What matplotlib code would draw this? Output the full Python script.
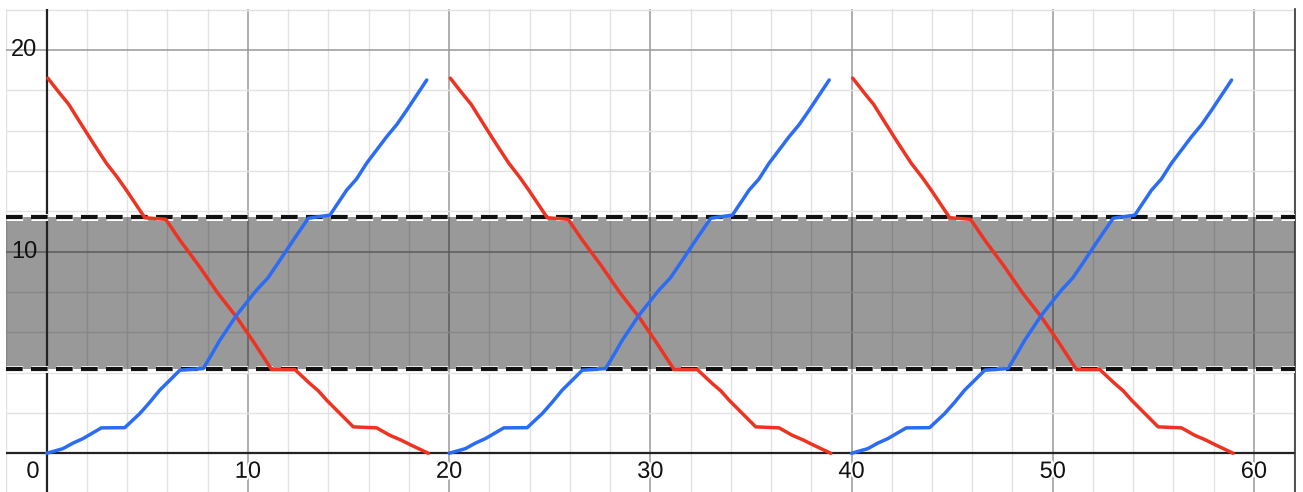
import numpy as np
import matplotlib.pyplot as plt
import matplotlib.patheffects as pe

# satu periode kurva, diulang tiap 20 satuan
red_x = [0.06, 0.65, 1.1, 1.64, 2.3, 2.97, 3.5, 3.96, 4.88, 5.92, 6.6, 7.6, 8.5, 9.44, 10.3, 11.18,
         12.34, 13.08, 13.5, 13.92, 14.58, 15.24, 16.4, 17.06, 17.6, 18.06, 18.97]
red_y = [18.6, 17.85, 17.3, 16.44, 15.4, 14.38, 13.7, 13.05, 11.68, 11.6, 10.6, 9.25, 7.95, 6.75, 5.5, 4.15,
         4.15, 3.46, 3.1, 2.63, 1.97, 1.31, 1.26, 0.89, 0.66, 0.43, 0.0]
blue_x = [0.0, 0.81, 1.3, 1.81, 2.72, 3.88, 4.63, 5.1, 5.62, 6.2, 6.62, 7.78, 8.2, 8.61, 9.44, 10.43, 11.0, 11.43,
          12.26, 13.0, 13.3, 14.08, 14.91, 15.4, 15.9, 16.9, 17.4, 17.9, 18.89]
blue_y = [0.0, 0.23, 0.5, 0.73, 1.26, 1.27, 1.97, 2.5, 3.13, 3.7, 4.12, 4.2, 4.9, 5.61, 6.85, 8.09, 8.7, 9.33,
          10.57, 11.65, 11.7, 11.81, 13.05, 13.6, 14.38, 15.7, 16.3, 17.02, 18.51]
periods = [0, 20, 40]

band_low = 4.17
band_high = 11.7

x_labels = [10, 20, 30, 40, 50, 60]
y_labels = [10, 20]

fig = plt.figure(figsize=(13.03, 4.92), dpi=100)
ax = fig.add_axes([6 / 1303, 0, 1289 / 1303, 483 / 492])
ax.set_xlim(-2.02, 62.04)
ax.set_ylim(-1.92, 22.03)

# grid kecil dan besar
for gx in np.arange(-2, 63, 2):
    major = gx % 10 == 0
    ax.axvline(gx, color='#999999' if major else '#e2e2e2', lw=1.1 if major else 1.0, zorder=0)
for gy in np.arange(-2, 23, 2):
    major = gy % 10 == 0
    ax.axhline(gy, color='#999999' if major else '#e2e2e2', lw=1.1 if major else 1.0, zorder=0)

# sumbu
ax.axhline(0, color='#222222', lw=1.6, zorder=2)
ax.axvline(0, color='#222222', lw=1.6, zorder=2)

# daerah arsiran
ax.axhspan(band_low, band_high, color='black', alpha=0.4, lw=0, zorder=1)
for yb in (band_low, band_high):
    ax.axhline(yb, color='#111111', lw=3.0, linestyle=(0, (4.0, 2.0)), zorder=3,
               path_effects=[pe.Stroke(linewidth=5, foreground='white'), pe.Normal()])

for p in periods:
    ax.plot(np.array(red_x) + p, red_y, color='#ee3322', lw=2.5, zorder=4,
            solid_capstyle='round', solid_joinstyle='round')
    ax.plot(np.array(blue_x) + p, blue_y, color='#2b6cf6', lw=2.5, zorder=4,
            solid_capstyle='round', solid_joinstyle='round')

font = dict(family=['Liberation Sans', 'DejaVu Sans'], fontsize=17, color='#111111')
halo = [pe.withStroke(linewidth=3, foreground='white')]
for v in x_labels:
    ax.text(v, -0.92, str(v), ha='center', va='center', zorder=5, path_effects=halo, **font)
for v in y_labels:
    ax.text(-0.45, v, str(v), ha='right', va='center', zorder=5, **font)
ax.text(-0.68, -0.92, '0', ha='center', va='center', zorder=5, path_effects=halo, **font)

for s in ['top', 'left', 'bottom']:
    ax.spines[s].set_visible(False)
ax.spines['right'].set_color('#333333')
ax.spines['right'].set_linewidth(1.2)
ax.set_xticks([])
ax.set_yticks([])

plt.savefig('out.png', dpi=100)
